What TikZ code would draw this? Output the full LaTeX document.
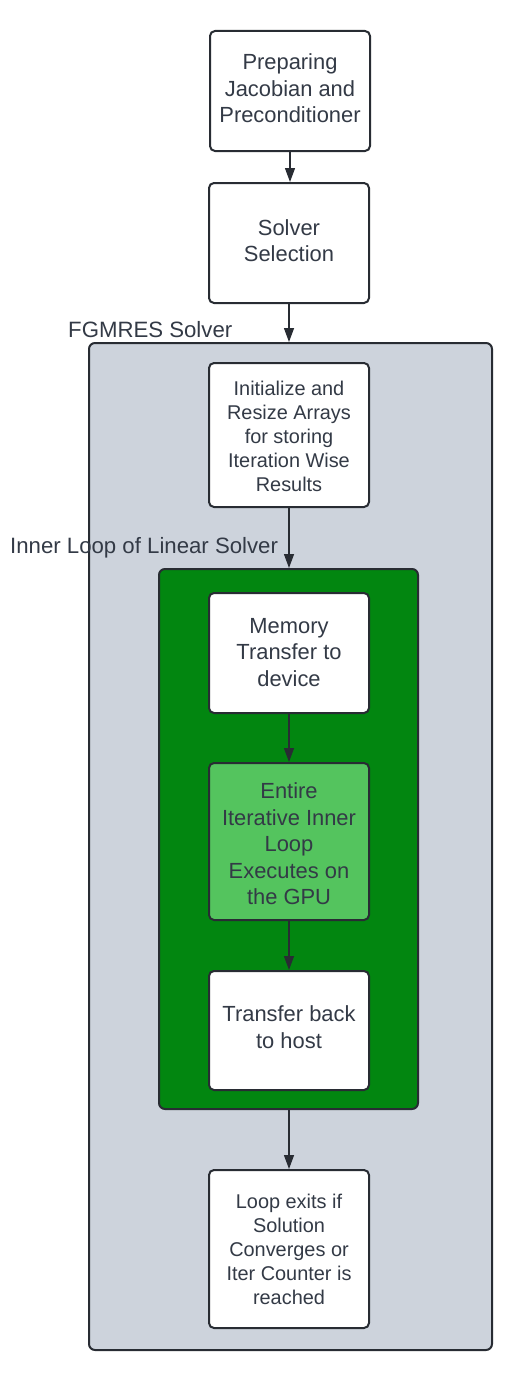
\documentclass[tikz,border=0pt]{standalone}
\usepackage{fontspec}
\setmainfont{Liberation Sans}
\usetikzlibrary{arrows.meta}
\definecolor{txt}{HTML}{333A46}
\definecolor{edge}{HTML}{282C33}
\definecolor{greyfill}{HTML}{CDD3DC}
\definecolor{darkgreen}{HTML}{028610}
\definecolor{lightgreen}{HTML}{54C45E}
% #1 extra height, #2 extra depth (to move text down / up), #3 lines
\newcommand\boxtext[3]{\raisebox{0pt}[\dimexpr\height+#1\relax][\dimexpr\depth+#2\relax]{\begin{tabular}{@{}c@{}}#3\end{tabular}}}
\tikzset{
  boxbase/.style={draw=edge, line width=2pt, rounded corners=5pt, inner sep=0pt,
    minimum width=160pt, text=txt},
  bigbox/.style={boxbase, fill=white, font={\fontsize{21.9}{26.5}\selectfont}},
  smallbox/.style={boxbase, fill=white, font={\fontsize{19.9}{24}\selectfont}},
  container/.style={draw=edge, line width=2pt, rounded corners=6pt, inner sep=0pt},
  grouplabel/.style={anchor=west, inner sep=0pt, text=txt, font={\fontsize{22.2}{26}\selectfont}},
  flow/.style={draw=edge, line width=1.3pt, -{Triangle[width=10pt,length=14pt]}}
}
\begin{document}
\begin{tikzpicture}[x=1pt,y=-1pt]
\useasboundingbox (0,0) rectangle (522,1378);
% containers
\node[container, fill=greyfill, minimum width=403pt, minimum height=1007pt] (fg) at (290.5,846.5) {};
\node[container, fill=darkgreen, minimum width=259pt, minimum height=540pt] (gr) at (288.5,839) {};
% labels
\node[grouplabel] (fglab) at (68,330) {FGMRES Solver};
\node[grouplabel] (inlab) at (10,548) {Inner Loop of Linear Solver};
% boxes
\node[bigbox, minimum height=120pt] (b1) at (290,91) {\boxtext{0pt}{0pt}{Preparing\\Jacobian and\\Preconditioner}};
\node[bigbox, minimum height=120pt] (b2) at (289,243) {\boxtext{0pt}{0pt}{Solver\\Selection}};
\node[smallbox, minimum height=144pt] (b3) at (289,435) {\boxtext{8pt}{0pt}{Initialize and\\Resize Arrays\\for storing\\Iteration Wise\\Results}};
\node[bigbox, minimum height=120pt] (b4) at (289,653) {\boxtext{3pt}{0pt}{Memory\\Transfer to\\device}};
\node[bigbox, fill=lightgreen, minimum height=157pt] (b5) at (289,841.5) {\boxtext{10pt}{0pt}{Entire\\Iterative Inner\\Loop\\Executes on\\the GPU}};
\node[bigbox, minimum height=119pt] (b6) at (289,1030.5) {\boxtext{0pt}{2pt}{Transfer back\\to host}};
\node[smallbox, minimum height=158pt] (b7) at (289,1249) {\boxtext{6pt}{0pt}{Loop exits if\\Solution\\Converges or\\Iter Counter is\\reached}};
% connectors
\draw[flow] (b1.south) -- (b1.south |- b2.north);
\draw[flow] (b2.south) -- (b2.south |- fg.north);
\draw[flow] (b3.south) -- (b3.south |- gr.north);
\draw[flow] (b4.south) -- (b5.north);
\draw[flow] (b5.south) -- (b6.north);
\draw[flow] (b7.north |- gr.south) -- (b7.north);
\end{tikzpicture}
\end{document}
